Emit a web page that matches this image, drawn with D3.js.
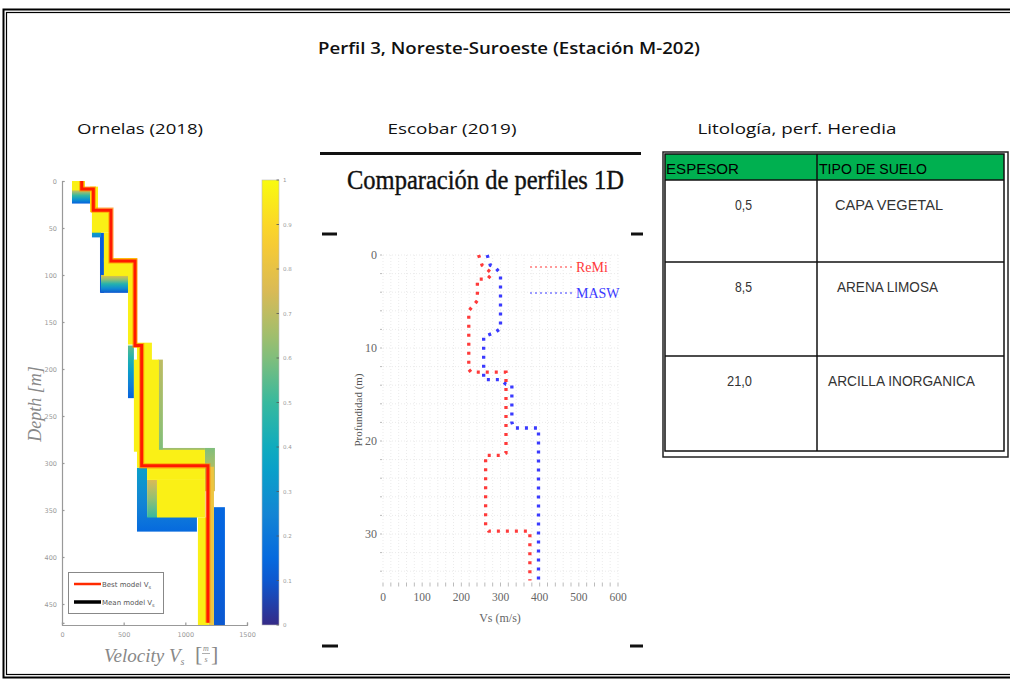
<!DOCTYPE html>
<html><head><meta charset="utf-8">
<script src="https://cdn.jsdelivr.net/npm/d3@7"></script>
<style>body{margin:0;background:#fff}</style>
</head><body>
<svg id="c" width="1010" height="679"></svg>
<script>
// ---------------- DATA ----------------
const mainTitle = "Perfil 3, Noreste-Suroeste (Estación M-202)";
const panelTitles = ["Ornelas (2018)", "Escobar (2019)", "Litología, perf. Heredia"];

// Ornelas (2018): best model layers (top depth, Vs)
const bestTop = [0, 8.5, 31, 85, 175, 303];
const bestVs  = [160, 254, 397, 592, 646, 1183];
const ornelasMaxDepth = 470;
const ornelasDepthTicks = [0,50,100,150,200,250,300,350,400,450];
const ornelasVelTicks = [0,500,1000,1500];
const colorbarTicks = [0,0.1,0.2,0.3,0.4,0.5,0.6,0.7,0.8,0.9,1];
// ensemble cells [v0, v1, d0, d1, misfit at top, misfit at bottom]
const ensembleCells = [
  [81,227,7,24,0.85,0.12],
  [243,316,33,60,0.75,0.25],
  [308,340,55,119,0.12,0.1],
  [316,535,100,119,0.8,0.1],
  [535,583,175,231,0.55,0.12],
  [780,818,190,286,0.7,0.6],
  [608,690,305,358,0.35,0.2],
  [690,770,318,358,0.75,0.5],
  [608,1094,357,373,0.2,0.15],
  [1159,1240,284,330,0.6,0.75],
  [1232,1321,347,474,0.14,0.1],
  [786,1159,284,288,0.65,0.65],
  [81,186,0,10,0.97,0.97],[227,292,6,33,0.97,0.97],[243,405,31,55,0.97,0.97],[340,405,55,86,0.97,0.97],
  [340,608,82,101,0.97,0.97],
  [535,608,82,174,0.97,0.97],[608,729,172,193,0.97,0.97],[583,786,190,288,0.97,0.97],
  [608,1159,286,305,0.97,0.97],[690,1159,305,318,0.97,0.97],[770,1159,318,358,0.97,0.97],
  [1102,1191,358,474,0.97,0.97],[1191,1232,304,474,0.82,0.82],
  [780,1094,325,328,0.8,0.8],[780,1094,342,345,0.8,0.8],[780,1094,350,352,0.8,0.8]
];
const legendLabels = ["Best model V", "Mean model V"];

// Escobar (2019)
const remiV = [244,253,279,266,241,241,219,219,225,314,314,304,262,262,270,375,375];
const remiD = [0,1.1,2.0,2.6,2.6,4.9,6.0,12.3,12.6,12.6,21.3,21.55,21.55,29.2,29.7,29.7,35];
const maswV = [266,274,287,300,300,287,257,257,300,314,329,329,334,397,397];
const maswD = [0,1.1,1.35,2.0,7.9,8.3,8.8,13.4,13.4,13.9,14.0,18.0,18.6,18.6,35];
const escobarVelTicks = [0,100,200,300,400,500,600];
const escobarDepthTicks = [0,10,20,30];

// Lithology table
const tableHeader = ["ESPESOR", "TIPO DE SUELO"];
const espesor = ["0,5", "8,5", "21,0"];
const tipoSuelo = ["CAPA VEGETAL", "ARENA LIMOSA", "ARCILLA INORGANICA"];

// ---------------- DRAW ----------------
const svg = d3.select("#c");
const defs = svg.append("defs");
const parula = d3.scaleLinear()
  .domain([0,0.125,0.25,0.375,0.5,0.625,0.75,0.875,1])
  .range(["#352a87","#0363e1","#1485d4","#06a7c6","#38b99e","#92bf73","#d9ba56","#fcce2e","#f9fb0e"]);

// outer frame (double line)
svg.append("rect").attr("x",3.5).attr("y",9.5).attr("width",1010).attr("height",668)
  .attr("fill","none").attr("stroke","#000").attr("stroke-width",2);
svg.append("rect").attr("x",6.5).attr("y",12.5).attr("width",1010).attr("height",662)
  .attr("fill","none").attr("stroke","#000").attr("stroke-width",1.2);

svg.append("text").attr("x",509).attr("y",54).attr("text-anchor","middle")
  .attr("font-family","Open Sans").attr("font-weight","600").attr("font-size",15.5)
  .attr("textLength",382).attr("lengthAdjust","spacingAndGlyphs").attr("fill","#111").text(mainTitle);
const ptX = [140,452,797], ptW=[126,129,199];
panelTitles.forEach((t,i)=>{
  svg.append("text").attr("x",ptX[i]).attr("y",134).attr("text-anchor","middle")
    .attr("font-family","Open Sans").attr("font-size",15)
    .attr("textLength",ptW[i]).attr("lengthAdjust","spacingAndGlyphs").attr("fill","#111").text(t);
});

// ---- Ornelas panel ----
const xL = d3.scaleLinear().domain([0,1500]).range([62,247]);
const yL = d3.scaleLinear().domain([0,ornelasMaxDepth]).range([181,622.8]);
svg.append("clipPath").attr("id","clipL").append("rect")
  .attr("x",62).attr("y",178).attr("width",185).attr("height",447);
const gL = svg.append("g").attr("clip-path","url(#clipL)");
ensembleCells.map((c,i)=>({c,i})).sort((a,b)=>Math.max(a.c[4],a.c[5])-Math.max(b.c[4],b.c[5])).forEach(({c,i})=>{
  let fill = parula(c[4]);
  if (c[4]!==c[5]) {
    const gid = "cg"+i;
    const g = defs.append("linearGradient").attr("id",gid).attr("x1",0).attr("y1",0).attr("x2",0).attr("y2",1);
    d3.range(0,1.001,0.25).forEach(o=>g.append("stop").attr("offset",o).attr("stop-color",parula(c[4]+(c[5]-c[4])*o)));
    fill = "url(#"+gid+")";
  }
  gL.append("rect").attr("x",xL(c[0])).attr("y",yL(c[2]))
    .attr("width",xL(c[1])-xL(c[0])).attr("height",yL(c[3])-yL(c[2]))
    .attr("fill",fill);
});
// best model step line
const bestPts = [];
bestTop.forEach((t,i)=>{
  const bot = i<bestTop.length-1 ? bestTop[i+1] : ornelasMaxDepth;
  bestPts.push([bestVs[i],t]); bestPts.push([bestVs[i],bot]);
});
const lineL = d3.line().x(d=>xL(d[0])).y(d=>yL(d[1]));
gL.append("path").attr("d",lineL(bestPts)).attr("fill","none")
  .attr("stroke","#ff8a00").attr("stroke-width",5.2).attr("opacity",0.7);
gL.append("path").attr("d",lineL(bestPts)).attr("fill","none")
  .attr("stroke","#ff1a00").attr("stroke-width",3);

const axL = svg.append("g").attr("transform","translate(62,0)")
  .call(d3.axisLeft(yL).tickValues(ornelasDepthTicks).tickSize(-2.5).tickPadding(5).tickFormat(d3.format("d")));
const axB = svg.append("g").attr("transform","translate(0,625)")
  .call(d3.axisBottom(xL).tickValues(ornelasVelTicks).tickSize(-2.5).tickPadding(7).tickFormat(d3.format("d")));
[axL,axB].forEach(a=>{
  a.selectAll("path,line").attr("stroke","#999").attr("stroke-width",1.2);
  a.selectAll("text").attr("fill","#999").attr("font-size",6.5).attr("font-family","DejaVu Sans");
});
// legend
svg.append("rect").attr("x",68.5).attr("y",572.5).attr("width",95).attr("height",41)
  .attr("fill","#fff").attr("stroke","#888").attr("stroke-width",1);
const legC = ["#ff2a00","#000"], legY=[584,602];
legendLabels.forEach((l,i)=>{
  svg.append("line").attr("x1",74).attr("x2",101).attr("y1",legY[i]).attr("y2",legY[i])
    .attr("stroke",legC[i]).attr("stroke-width",i?3.5:2.5);
  const t = svg.append("text").attr("x",102).attr("y",legY[i]+2.5).attr("font-family","DejaVu Sans")
    .attr("font-size",7).attr("fill","#555").text(l);
  t.append("tspan").attr("font-size",5).attr("dy",2).text("s");
});
// axis labels
const xlab = svg.append("text").attr("x",104).attr("y",662).attr("font-family","Liberation Serif")
  .attr("font-style","italic").attr("font-size",19).attr("fill","#888").text("Velocity V");
xlab.append("tspan").attr("font-size",10).attr("dy",3).text("s");
svg.append("text").attr("x",195).attr("y",661).attr("font-family","Liberation Serif")
  .attr("font-size",22).attr("fill","#888").text("[");
svg.append("text").attr("x",211).attr("y",661).attr("font-family","Liberation Serif")
  .attr("font-size",22).attr("fill","#888").text("]");
svg.append("text").attr("x",206).attr("y",651).attr("text-anchor","middle").attr("font-family","Liberation Serif")
  .attr("font-style","italic").attr("font-size",8).attr("fill","#888").text("m");
svg.append("line").attr("x1",202).attr("x2",210).attr("y1",653.5).attr("y2",653.5).attr("stroke","#999").attr("stroke-width",0.8);
svg.append("text").attr("x",206).attr("y",662).attr("text-anchor","middle").attr("font-family","Liberation Serif")
  .attr("font-style","italic").attr("font-size",8).attr("fill","#888").text("s");
svg.append("text").attr("transform","translate(41,404) rotate(-90)").attr("text-anchor","middle")
  .attr("font-family","Liberation Serif").attr("font-style","italic").attr("font-size",18).attr("fill","#888")
  .text("Depth [m]");

// colorbar
const yC = d3.scaleLinear().domain([0,1]).range([625,180]);
const grad = defs.append("linearGradient").attr("id","parGrad")
  .attr("x1",0).attr("y1",1).attr("x2",0).attr("y2",0);
d3.range(0,1.0001,0.05).forEach(v=>grad.append("stop").attr("offset",v).attr("stop-color",parula(v)));
svg.append("rect").attr("x",262).attr("y",180).attr("width",17).attr("height",445)
  .attr("fill","url(#parGrad)").attr("stroke","#bbb").attr("stroke-width",0.6);
colorbarTicks.forEach(t=>{
  svg.append("line").attr("x1",276.5).attr("x2",279).attr("y1",yC(t)).attr("y2",yC(t)).attr("stroke","#555").attr("stroke-width",0.8);
  svg.append("text").attr("x",283).attr("y",yC(t)+2).attr("font-family","DejaVu Sans")
    .attr("font-size",5.5).attr("fill","#999").text(String(t));
});

// ---- Escobar panel ----
svg.append("line").attr("x1",320).attr("x2",641).attr("y1",153.5).attr("y2",153.5).attr("stroke","#111").attr("stroke-width",3);
[[322,337,234],[631,643,234],[322,338,646],[630,643,646]].forEach(d=>{
  svg.append("line").attr("x1",d[0]).attr("x2",d[1]).attr("y1",d[2]).attr("y2",d[2]).attr("stroke","#111").attr("stroke-width",3);
});
svg.append("text").attr("x",485.5).attr("y",189).attr("text-anchor","middle")
  .attr("font-family","Liberation Serif").attr("font-size",27).attr("fill","#111")
  .attr("stroke","#111").attr("stroke-width",0.4)
  .attr("textLength",277).attr("lengthAdjust","spacingAndGlyphs").text("Comparación de perfiles 1D");

const xE = d3.scaleLinear().domain([0,600]).range([383,618]);
const yE = d3.scaleLinear().domain([0,35]).range([255,580.5]);
const gE = svg.append("g");
d3.range(0,601,20).forEach(v=>{
  gE.append("line").attr("x1",xE(v)).attr("x2",xE(v)).attr("y1",yE(0)).attr("y2",yE(35))
    .attr("stroke","#e6e6e6").attr("stroke-width",0.8).attr("stroke-dasharray","1,2");
  gE.append("line").attr("x1",xE(v)).attr("x2",xE(v)).attr("y1",yE(35)+2).attr("y2",yE(35)+6)
    .attr("stroke","#aaa").attr("stroke-width",0.8);
});
d3.range(0,35.01,2).forEach(d=>{
  gE.append("line").attr("x1",xE(0)).attr("x2",xE(600)).attr("y1",yE(d)).attr("y2",yE(d))
    .attr("stroke","#e6e6e6").attr("stroke-width",0.8).attr("stroke-dasharray","1,2");
  gE.append("line").attr("x1",xE(0)-3).attr("x2",xE(0)-1).attr("y1",yE(d)).attr("y2",yE(d))
    .attr("stroke","#aaa").attr("stroke-width",0.8);
});
escobarDepthTicks.forEach(d=>{
  gE.append("text").attr("x",377).attr("y",yE(d)+4).attr("text-anchor","end")
    .attr("font-family","Liberation Serif").attr("font-size",12).attr("fill","#666").text(d);
});
escobarVelTicks.forEach(v=>{
  gE.append("text").attr("x",xE(v)).attr("y",601).attr("text-anchor","middle")
    .attr("font-family","Liberation Serif").attr("font-size",11.5).attr("fill","#666").text(v);
});
gE.append("text").attr("x",500).attr("y",622).attr("text-anchor","middle")
  .attr("font-family","Liberation Serif").attr("font-size",12).attr("fill","#666").text("Vs (m/s)");
gE.append("text").attr("transform","translate(362,410) rotate(-90)").attr("text-anchor","middle")
  .attr("font-family","Liberation Serif").attr("font-size",11).attr("fill","#555").text("Profundidad (m)");

const lineE = d3.line().x(d=>xE(d[0])).y(d=>yE(d[1]));
const remiPts = remiV.map((v,i)=>[v,remiD[i]]);
const maswPts = maswV.map((v,i)=>[v,maswD[i]]);
gE.append("path").attr("d",lineE(maswPts)).attr("fill","none").attr("stroke","#3a3aff")
  .attr("stroke-width",3.3).attr("stroke-dasharray","3,6");
gE.append("path").attr("d",lineE(remiPts)).attr("fill","none").attr("stroke","#ff3a3a")
  .attr("stroke-width",3.3).attr("stroke-dasharray","3,6");
// legend
[["ReMi","#ff3a3a","#ff9a9a",267],["MASW","#3a3aff","#9a9aff",293]].forEach(l=>{
  gE.append("line").attr("x1",530).attr("x2",572).attr("y1",l[3]).attr("y2",l[3])
    .attr("stroke",l[2]).attr("stroke-width",2).attr("stroke-dasharray","2,3");
  gE.append("text").attr("x",576).attr("y",l[3]+5).attr("font-family","Liberation Serif")
    .attr("font-size",14).attr("fill",l[1]).text(l[0]);
});

// ---- Lithology table ----
const gT = svg.append("g");
const rowY = [154,180,262,356,451];
gT.append("rect").attr("x",665).attr("y",154).attr("width",339).attr("height",26).attr("fill","#00b050");
gT.append("rect").attr("x",663).attr("y",152).attr("width",345).attr("height",305)
  .attr("fill","none").attr("stroke","#222").attr("stroke-width",1.5);
gT.append("rect").attr("x",665).attr("y",154).attr("width",339).attr("height",297)
  .attr("fill","none").attr("stroke","#111").attr("stroke-width",1.5);
gT.append("line").attr("x1",817).attr("x2",817).attr("y1",154).attr("y2",451).attr("stroke","#111").attr("stroke-width",1.5);
rowY.slice(1,4).forEach(y=>gT.append("line").attr("x1",665).attr("x2",1004).attr("y1",y).attr("y2",y)
  .attr("stroke","#111").attr("stroke-width",1.5));
const hdrX=[666,819], hdrW=[73,108];
tableHeader.forEach((h,i)=>{
  gT.append("text").attr("x",hdrX[i]).attr("y",174).attr("font-family","Liberation Sans Narrow, Liberation Sans")
    .attr("font-size",14).attr("fill","#000").attr("textLength",hdrW[i]).attr("lengthAdjust","spacingAndGlyphs").text(h);
});
const espX=[743.5,743.5,739.5], espW=[17,17,25];
const tipX=[835,837,828], tipW=[108,101,147];
espesor.forEach((e,i)=>{
  gT.append("text").attr("x",espX[i]).attr("y",rowY[i+1]+30).attr("text-anchor","middle")
    .attr("font-family","Liberation Sans Narrow, Liberation Sans").attr("font-size",15).attr("fill","#333")
    .attr("textLength",espW[i]).attr("lengthAdjust","spacingAndGlyphs").text(e);
  gT.append("text").attr("x",tipX[i]).attr("y",rowY[i+1]+30)
    .attr("font-family","Liberation Sans Narrow, Liberation Sans").attr("font-size",15).attr("fill","#333")
    .attr("textLength",tipW[i]).attr("lengthAdjust","spacingAndGlyphs").text(tipoSuelo[i]);
});
</script>
</body></html>
